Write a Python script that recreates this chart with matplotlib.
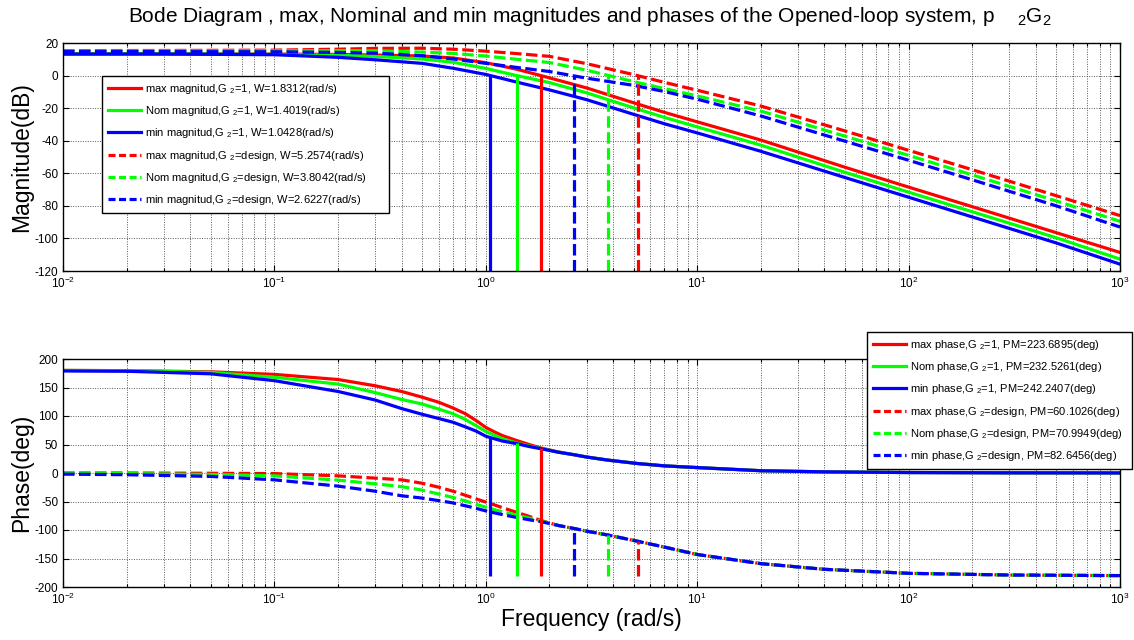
import matplotlib
matplotlib.use("Agg")
import matplotlib.pyplot as plt
from matplotlib.ticker import LogLocator, NullFormatter, MultipleLocator

plt.rcParams['font.family'] = ['Liberation Sans', 'DejaVu Sans']
plt.rcParams['mathtext.fontset'] = 'custom'
plt.rcParams['mathtext.rm'] = 'Liberation Sans'
plt.rcParams['mathtext.it'] = 'Liberation Sans:italic'
plt.rcParams['mathtext.bf'] = 'Liberation Sans:bold'
plt.rcParams['axes.unicode_minus'] = False

# ---- magnitude data (dB) ----
freq_mag = [0.01, 0.03, 0.1, 0.2, 0.3, 0.5, 0.7, 1.0, 1.4, 2.0, 3.0, 5.0, 7.0,
            10, 20, 50, 100, 200, 500, 1000]
mag_max_g1 = [13.3, 13.3, 13.2, 13.0, 12.6, 12.0, 10.8, 7.9, 3.9, -1.4, -7.6, -16.7,
              -22.6, -28.4, -39.6, -56.3, -68.5, -80.5, -96.5, -108.6]
mag_nom_g1 = [13.3, 13.3, 13.0, 12.5, 11.8, 10.2, 8.2, 4.4, 0.0, -4.3, -10.6, -19.8,
              -25.7, -31.5, -42.7, -59.4, -71.6, -83.6, -99.6, -112.7]
mag_min_g1 = [13.2, 13.2, 12.8, 11.2, 9.7, 7.5, 4.5, 0.7, -4.0, -8.8, -14.8, -23.8,
              -29.6, -35.2, -46.5, -62.6, -74.7, -86.8, -102.8, -115.8]
mag_max_gd = [15.3, 15.4, 15.6, 16.2, 16.7, 16.8, 16.2, 15.0, 13.5, 11.8, 7.3, 0.6,
              -4.2, -9.0, -18.7, -34.0, -45.9, -57.8, -73.8, -86.0]
mag_nom_gd = [15.0, 15.1, 15.2, 15.3, 15.2, 14.4, 13.6, 12.0, 10.0, 8.0, 3.3, -3.7,
              -8.0, -12.5, -21.8, -37.2, -49.0, -61.0, -77.0, -89.5]
mag_min_gd = [14.7, 14.7, 14.6, 14.2, 13.8, 12.2, 10.2, 7.5, 5.0, 2.5, -1.6, -6.0,
              -9.8, -14.5, -24.8, -40.3, -52.0, -64.0, -80.0, -93.0]

# ---- phase data (deg) ----
freq_ph = [0.01, 0.02, 0.05, 0.1, 0.2, 0.3, 0.4, 0.5, 0.6, 0.7, 0.8, 0.9, 1.0, 1.1,
           1.2, 1.4, 1.6, 1.83, 2.2, 2.62, 3.0, 3.8, 5.26, 7.0, 10, 20, 40, 100,
           300, 1000]
ph_max_g1 = [180, 179.5, 177.5, 173, 164, 153, 143, 133, 124, 114, 104, 92, 80, 72,
             65.5, 57, 50, 43.7, 37, 32, 28, 22.5, 16.5, 12.5, 9.5, 4, 2, 0.8, 0.3, 0.1]
ph_nom_g1 = [180, 179.5, 176.5, 168, 156, 141, 129, 121, 112, 104, 94, 83, 73, 66,
             60, 52.5, 47.5, 43, 36.5, 32, 28, 22.5, 16.5, 12.5, 9.5, 4, 2, 0.8, 0.3, 0.1]
ph_min_g1 = [179, 178.5, 174, 162, 143, 128, 113, 103, 95.5, 89, 81, 73.5, 64.5, 60,
             56, 51.5, 46.5, 42.5, 36.5, 32, 28, 22.5, 16.5, 12.5, 9.5, 4, 2, 0.8, 0.3, 0.1]
ph_max_gd = [0, 0, -0.5, -1, -5, -9, -12, -18, -25, -32, -39, -45.5, -51, -56, -61,
             -69, -76, -83.5, -92, -97.5, -102, -109, -119.9, -130, -143, -159, -169,
             -176, -179, -180]
ph_nom_gd = [0, -1, -2.5, -5, -12.5, -19, -24, -30, -37, -43, -49, -55, -60, -64.5,
             -68, -74, -79, -84.5, -92, -97.5, -102, -109, -120, -130, -143, -159,
             -169, -176, -179, -180]
ph_min_gd = [-2, -3, -6, -12, -23, -32, -40, -44, -48.5, -52.5, -57.5, -62, -66.5,
             -70, -73, -78, -82, -85.5, -92, -97.4, -102, -109, -120, -130, -143,
             -159, -169, -176, -179, -180]

# ---- crossover frequencies and phase margins ----
w_cross = {"max_g1": 1.8312, "nom_g1": 1.4019, "min_g1": 1.0428,
           "max_gd": 5.2574, "nom_gd": 3.8042, "min_gd": 2.6227}
pm = {"max_g1": 223.6895, "nom_g1": 232.5261, "min_g1": 242.2407,
      "max_gd": 60.1026, "nom_gd": 70.9949, "min_gd": 82.6456}

keys = ["max_g1", "nom_g1", "min_g1", "max_gd", "nom_gd", "min_gd"]
mags = dict(zip(keys, [mag_max_g1, mag_nom_g1, mag_min_g1, mag_max_gd, mag_nom_gd, mag_min_gd]))
phs = dict(zip(keys, [ph_max_g1, ph_nom_g1, ph_min_g1, ph_max_gd, ph_nom_gd, ph_min_gd]))
colors = {"max": (1, 0, 0), "nom": (0, 1, 0), "min": (0, 0, 1)}
names = {"max": "max", "nom": "Nom", "min": "min"}

LW = 2.3
DASH = (3.6, 1.4)
LEG_DASH = (2.2, 1.1)
MAG_PAD = "      "  # right-hand padding inside the legend boxes
PH_PAD = "  "

fig = plt.figure(figsize=(11.34, 6.4), dpi=100)
W, H = 1134, 640
ax1 = fig.add_axes([63 / W, 1 - 271 / H, (1120 - 63) / W, 228 / H])
ax2 = fig.add_axes([63 / W, 1 - 587 / H, (1120 - 63) / W, 228 / H])

mag_handles, ph_handles = [], []
for k in keys:
    lvl, grp = k.split("_")
    c = colors[lvl]
    ls = "-" if grp == "g1" else "--"
    g2 = "1" if grp == "g1" else "design"
    mlabel = f"{names[lvl]} magnitud,G $_2$={g2}, W={w_cross[k]:.4f}(rad/s)" + MAG_PAD
    plabel = f"{names[lvl]} phase,G $_2$={g2}, PM={pm[k]:.4f}(deg)" + PH_PAD
    l1, = ax1.plot(freq_mag, mags[k], color=c, lw=LW, ls=ls, label=mlabel)
    l2, = ax2.plot(freq_ph, phs[k], color=c, lw=LW, ls=ls, label=plabel)
    if ls == "--":
        l1.set_dashes(DASH)
        l2.set_dashes(DASH)
    mag_handles.append(l1)
    ph_handles.append(l2)

# vertical markers at the gain crossovers
for k in keys:
    lvl, grp = k.split("_")
    c = colors[lvl]
    ls = "-" if grp == "g1" else (0, DASH)
    ax1.vlines(w_cross[k], -120, 0, colors=[c], lw=LW, linestyles=[ls])
    ax2.vlines(w_cross[k], -180, pm[k] - 180, colors=[c], lw=LW, linestyles=[ls])

for ax in (ax1, ax2):
    ax.set_xscale("log")
    ax.set_xlim(1e-2, 1e3)
    ax.xaxis.set_major_locator(LogLocator(base=10, numticks=10))
    ax.xaxis.set_minor_locator(LogLocator(base=10, subs=range(2, 10), numticks=20))
    ax.xaxis.set_minor_formatter(NullFormatter())
    ax.grid(True, which="major", ls=(0, (1, 1.5)), color="0.35", lw=0.7)
    ax.grid(True, which="minor", axis="x", ls=(0, (1, 1.5)), color="0.35", lw=0.7)
    ax.tick_params(which="both", direction="in", top=True, right=True, labelsize=8.5,
                   width=0.8)
    ax.tick_params(which="major", length=4)
    ax.tick_params(which="minor", length=2.5)
    for s in ax.spines.values():
        s.set_linewidth(1.0)

ax1.set_ylim(-120, 20)
ax1.yaxis.set_major_locator(MultipleLocator(20))
ax2.set_ylim(-200, 200)
ax2.yaxis.set_major_locator(MultipleLocator(50))

ax1.set_ylabel("Magnitude(dB)", fontsize=16.5, labelpad=1)
ax2.set_ylabel("Phase(deg)", fontsize=16.5, labelpad=1)
ax2.set_xlabel("Frequency (rad/s)", fontsize=16.5, labelpad=1)

fig.text(590 / W, 1 - 17 / H,
         "Bode Diagram , max, Nominal and min magnitudes and phases of the Opened-loop system, p    $_2$G$_2$",
         ha="center", va="center", fontsize=15)

leg_kw = dict(fontsize=8, handlelength=3.0, labelspacing=0.75, borderpad=0.5,
              borderaxespad=0, handletextpad=0.4, fancybox=False, framealpha=1,
              edgecolor="k")
leg1 = ax1.legend(handles=mag_handles, loc="upper left",
                  bbox_to_anchor=(102 / W, 1 - 76 / H), bbox_transform=fig.transFigure, **leg_kw)
leg2 = ax2.legend(handles=ph_handles, loc="upper left",
                  bbox_to_anchor=(867 / W, 1 - 332 / H), bbox_transform=fig.transFigure, **leg_kw)
for lg in (leg1, leg2):
    lg.get_frame().set_linewidth(1.0)
    for ln in lg.get_lines()[3:]:
        ln.set_dashes(LEG_DASH)
leg2.set_clip_on(False)

fig.savefig("out.png", dpi=100)
